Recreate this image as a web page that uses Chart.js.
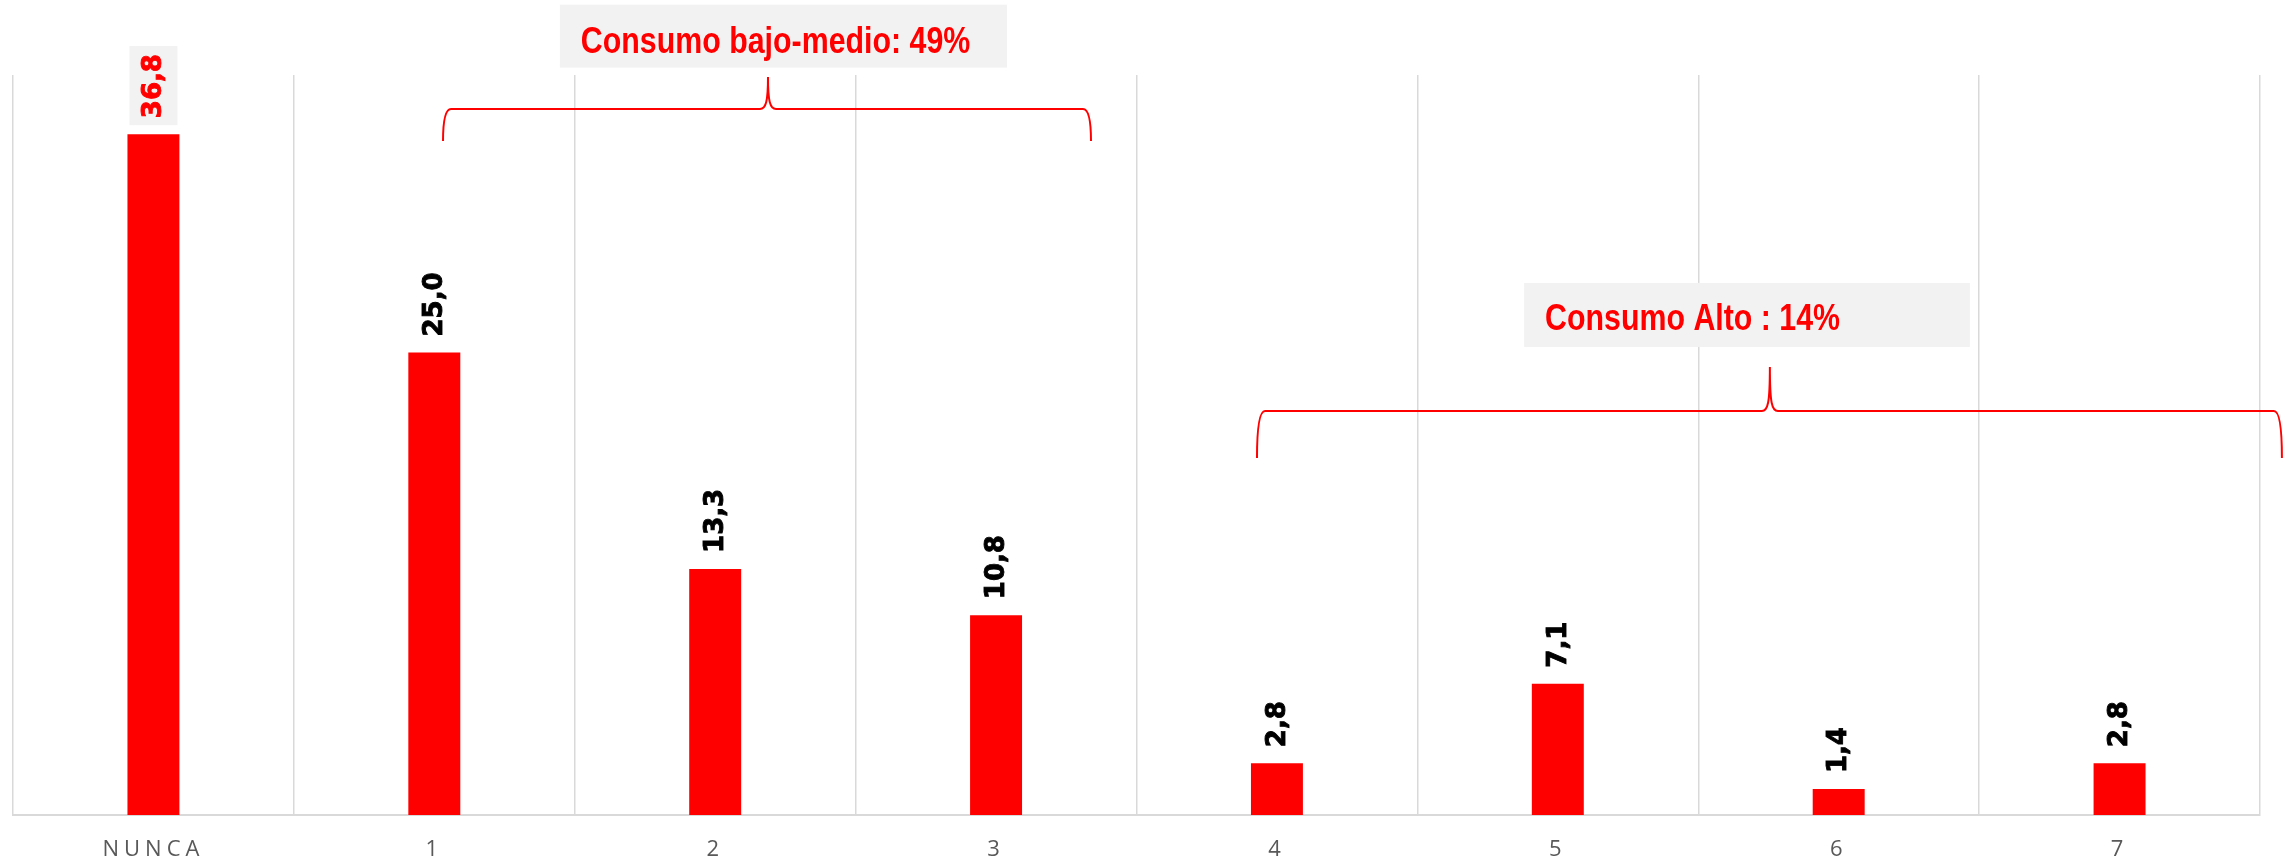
<!DOCTYPE html>
<html>
<head>
<meta charset="utf-8">
<script src="https://cdn.jsdelivr.net/npm/chart.js@4/dist/chart.umd.min.js"></script>
<style>
  html, body { margin: 0; padding: 0; background: #ffffff; }
  #c { display: block; }
</style>
</head>
<body>
<canvas id="c" width="2285" height="864" style="width:2285px;height:864px"></canvas>
<script>
// ---- data ----
const categories = ['NUNCA', '1', '2', '3', '4', '5', '6', '7'];
const values = [36.8, 25.0, 13.3, 10.8, 2.8, 7.1, 1.4, 2.8];
const groupLabels = ['Consumo bajo-medio: 49%', 'Consumo Alto : 14%'];

// ---- annotation layout (in scale units: category index / value) ----
const groupLayout = [
  { from: 1.031, to: 3.338, peak: 2.188, line: 38.16, end: 36.43, tip: 39.89,
    boxFrom: 1.447, boxTo: 3.039, boxTop: 43.8, boxBottom: 40.4, baseline: 41.19 },
  { from: 3.929, to: 7.578, peak: 5.755, line: 21.84, end: 19.3, tip: 24.22,
    boxFrom: 4.880, boxTo: 6.467, boxTop: 28.76, boxBottom: 25.30, baseline: 26.22 }
];

const fmt = v => v.toFixed(1).replace('.', ',');

const letterSpacingPlugin = {
  id: 'letterSpacing',
  beforeDraw(chart) { chart.ctx.letterSpacing = '5px'; },
  beforeDatasetsDraw(chart) { chart.ctx.letterSpacing = '0px'; }
};

const valueLabelPlugin = {
  id: 'valueLabels',
  afterDatasetsDraw(chart) {
    const ctx = chart.ctx;
    const meta = chart.getDatasetMeta(0);
    ctx.save();
    ctx.font = 'bold 26px "DejaVu Sans", sans-serif';
    meta.data.forEach((bar, i) => {
      const txt = fmt(chart.data.datasets[0].data[i]);
      const w = ctx.measureText(txt).width;
      ctx.save();
      ctx.translate(bar.x, bar.y - 16);
      ctx.rotate(-Math.PI / 2);
      let col = '#000000';
      if (i === 0) {
        ctx.fillStyle = '#f2f2f2';
        ctx.fillRect(-7, -24, w + 15, 48);
        col = '#ff0000';
      }
      ctx.fillStyle = col;
      ctx.strokeStyle = col;
      ctx.lineWidth = 0.9;
      ctx.textAlign = 'left';
      ctx.textBaseline = 'middle';
      ctx.fillText(txt, 0, 1);
      ctx.strokeText(txt, 0, 1);
      ctx.restore();
    });
    ctx.restore();
  }
};

function hasFont(ctx, family) {
  ctx.font = 'bold 40px "' + family + '", monospace';
  const a = ctx.measureText('Consumo bajo-medio').width;
  ctx.font = 'bold 40px monospace';
  const b = ctx.measureText('Consumo bajo-medio').width;
  return Math.abs(a - b) > 1;
}

const groupPlugin = {
  id: 'groups',
  afterDatasetsDraw(chart) {
    const ctx = chart.ctx;
    const xs = chart.scales.x, ys = chart.scales.y;
    const px = v => xs.getPixelForValue(v);
    const py = v => ys.getPixelForValue(v);
    const narrow = hasFont(ctx, 'Liberation Sans Narrow');
    ctx.save();
    groupLayout.forEach((g, i) => {
      // brace
      const x1 = px(g.from), x2 = px(g.to), xp = px(g.peak);
      const yH = py(g.line), yE = py(g.end), yP = py(g.tip);
      ctx.strokeStyle = '#ff0000';
      ctx.lineWidth = 2;
      ctx.beginPath();
      ctx.moveTo(x1, yE);
      ctx.quadraticCurveTo(x1, yH, x1 + 8, yH);
      ctx.lineTo(xp - 8, yH);
      ctx.bezierCurveTo(xp - 2, yH, xp, yH - 8, xp, yP);
      ctx.bezierCurveTo(xp, yH - 8, xp + 2, yH, xp + 8, yH);
      ctx.lineTo(x2 - 8, yH);
      ctx.quadraticCurveTo(x2, yH, x2, yE);
      ctx.stroke();
      // box
      const bx1 = px(g.boxFrom), bx2 = px(g.boxTo);
      const by1 = py(g.boxTop), by2 = py(g.boxBottom);
      ctx.fillStyle = '#f2f2f2';
      ctx.fillRect(bx1, by1, bx2 - bx1, by2 - by1);
      // text
      ctx.fillStyle = '#ff0000';
      ctx.strokeStyle = '#ff0000';
      ctx.lineWidth = 0.6;
      ctx.textAlign = 'left';
      ctx.textBaseline = 'alphabetic';
      const tx = bx1 + 21, ty = py(g.baseline);
      if (narrow) {
        ctx.font = 'bold 37px "Liberation Sans Narrow", sans-serif';
        ctx.fillText(groupLabels[i], tx, ty);
        ctx.strokeText(groupLabels[i], tx, ty);
      } else {
        ctx.save();
        ctx.translate(tx, ty);
        ctx.scale(0.82, 1);
        ctx.font = 'bold 37px "Liberation Sans", Arial, sans-serif';
        ctx.fillText(groupLabels[i], 0, 0);
        ctx.restore();
      }
    });
    ctx.restore();
  }
};

new Chart(document.getElementById('c'), {
  type: 'bar',
  data: {
    labels: categories,
    datasets: [{
      data: values,
      backgroundColor: '#ff0000',
      borderWidth: 0,
      categoryPercentage: 1.0,
      barPercentage: 0.185
    }]
  },
  options: {
    responsive: false,
    devicePixelRatio: 1,
    animation: false,
    events: [],
    layout: { padding: { left: 13, right: 25, top: 75, bottom: 2 } },
    plugins: { legend: { display: false }, tooltip: { enabled: false }, title: { display: false } },
    scales: {
      x: {
        afterFit(scale) { scale.height = 47; },
        grid: { display: true, color: '#d9d9d9', lineWidth: 1.5, drawTicks: false, offset: true },
        border: { display: true, color: '#d9d9d9', width: 2 },
        ticks: {
          color: '#595959',
          font: { family: '"Open Sans", sans-serif', size: 22 },
          padding: 22,
          maxRotation: 0,
          autoSkip: false
        }
      },
      y: {
        display: false,
        min: 0,
        max: 40,
        grid: { display: false }
      }
    }
  },
  plugins: [letterSpacingPlugin, valueLabelPlugin, groupPlugin]
});
</script>
</body>
</html>
